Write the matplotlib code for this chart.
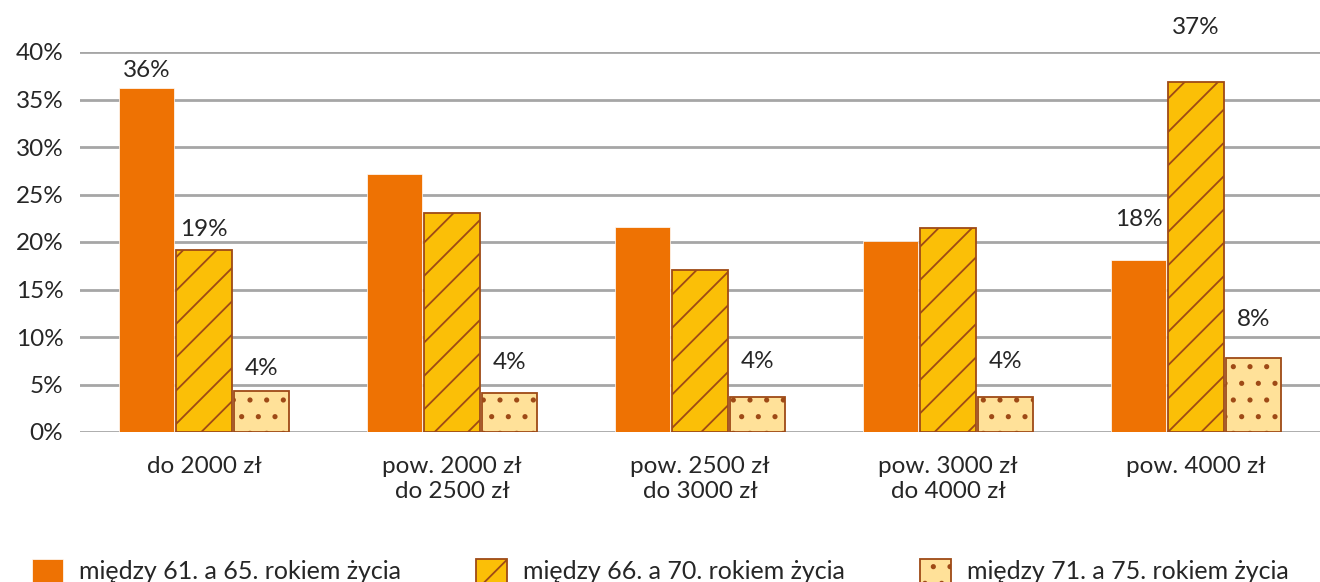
import matplotlib.pyplot as plt
import numpy as np

# dane
categories = ['do 2000 zł', 'pow. 2000 zł\ndo 2500 zł', 'pow. 2500 zł\ndo 3000 zł',
              'pow. 3000 zł\ndo 4000 zł', 'pow. 4000 zł']
series_names = ['między 61. a 65. rokiem życia',
                'między 66. a 70. rokiem życia',
                'między 71. a 75. rokiem życia']
age_61_65 = [36.2, 27.2, 21.6, 20.1, 18.1]
age_66_70 = [19.2, 23.05, 17.05, 21.5, 36.8]
age_71_75 = [4.3, 4.1, 3.7, 3.7, 7.8]

# ktore etykiety sa widoczne na wykresie
show_61_65 = [True, False, False, False, True]
show_66_70 = [True, False, False, False, True]
show_71_75 = [True, True, True, True, True]

# przesuniecie etykiet nad slupkiem (px)
off_61_65 = [18, 0, 0, 0, 41]
off_66_70 = [20, 0, 0, 0, 55]
off_71_75 = [23, 31, 35, 35, 38]

plt.rcParams['font.family'] = ['Lato', 'DejaVu Sans']
plt.rcParams['hatch.linewidth'] = 1.3
plt.rcParams['hatch.color'] = '#9E4A16'

text_color = '#262626'
brown = '#9E4A16'
fs = 17.5

fig = plt.figure(figsize=(13.2, 5.82), dpi=100)
ax = fig.add_axes([80 / 1320, 1 - 432 / 582, 1240 / 1320, 380 / 582])

x = np.arange(len(categories))
w = 0.222
step = 0.232

b1 = ax.bar(x - step, age_61_65, w, color='#EE7203', edgecolor='white', linewidth=0.5,
            label=series_names[0], zorder=3)
b2 = ax.bar(x, age_66_70, w, color='#FBBF07', edgecolor=brown, linewidth=1.3,
            hatch='/', label=series_names[1], zorder=3)
b3 = ax.bar(x + step, age_71_75, w, color='#FFE199', edgecolor=brown, linewidth=1.3,
            hatch='.', label=series_names[2], zorder=3)

for bars, vals, shows, offs in [(b1, age_61_65, show_61_65, off_61_65),
                                (b2, age_66_70, show_66_70, off_66_70),
                                (b3, age_71_75, show_71_75, off_71_75)]:
    for bar, v, s, o in zip(bars, vals, shows, offs):
        if not s:
            continue
        ax.annotate(f'{round(v)}%', (bar.get_x() + bar.get_width() / 2, v),
                    xytext=(0, o * 0.72), textcoords='offset points',
                    ha='center', va='center', fontsize=fs, color=text_color,
                    annotation_clip=False)

ax.set_xlim(-0.5, 4.5)
ax.set_ylim(0, 40)
ax.set_yticks(np.arange(0, 41, 5))
ax.set_yticklabels([f'{t}%' for t in range(0, 41, 5)])
ax.set_xticks(x)
ax.set_xticklabels(categories, linespacing=1.25)
ax.tick_params(axis='both', length=0, labelsize=fs, labelcolor=text_color)
ax.tick_params(axis='y', pad=12)
ax.tick_params(axis='x', pad=17)

ax.yaxis.grid(True, color='#A6A6A6', linewidth=2, zorder=0)
ax.set_axisbelow(True)
for s in ax.spines.values():
    s.set_visible(False)

fig.legend(loc='upper center', bbox_to_anchor=(0.5, 1 - 546 / 582), ncol=3,
           frameon=False, fontsize=18, handlelength=1.24, handleheight=1.1,
           handletextpad=0.64, columnspacing=3.0, borderpad=0,
           labelcolor=text_color)

fig.savefig('out.png', dpi=100)
